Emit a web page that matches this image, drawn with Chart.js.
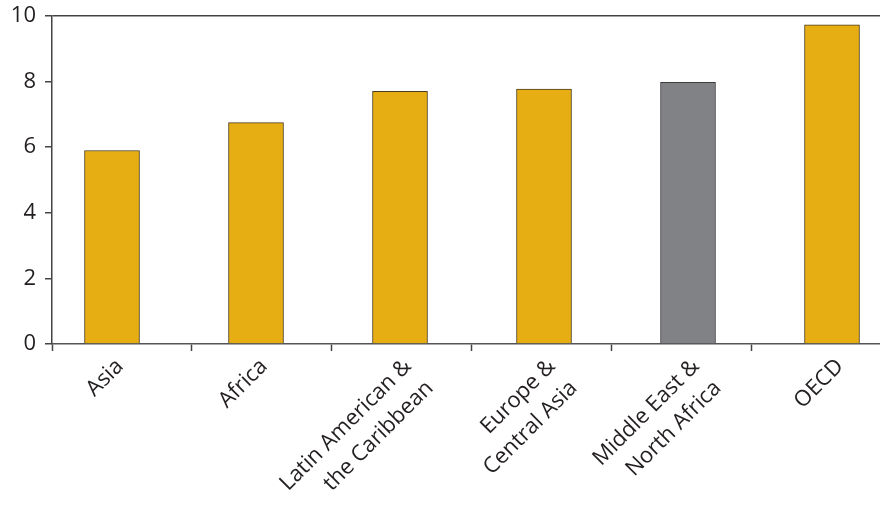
<!DOCTYPE html>
<html>
<head>
<meta charset="utf-8">
<script src="https://cdn.jsdelivr.net/npm/chart.js@4/dist/chart.umd.min.js"></script>
<style>
  html, body { margin: 0; padding: 0; background: #fff; overflow: hidden; }
</style>
</head>
<body>
<canvas id="c" width="880" height="506"></canvas>
<script>
const categories = [
  "Asia",
  "Africa",
  ["Latin American &", "the Caribbean"],
  ["Europe &", "Central Asia"],
  ["Middle East &", "North Africa"],
  "OECD"
];
const values = [5.9, 6.75, 7.7, 7.77, 7.98, 9.73];
const highlighted = [false, false, false, false, true, false];
const yTicks = [0, 2, 4, 6, 8, 10];

const gold = '#E6AE12', goldBorder = '#4a3c1c';
const grey = '#808285', greyBorder = '#3c3c3c';
const ink = '#231f20';
const font = "'Open Sans', 'Noto Sans', sans-serif";

// x axis geometry (in category units): bars one unit apart,
// the axis starts a little before the first bar, and the
// separator tick marks are spaced slightly tighter than the bars.
const xMin = -0.4167, xMax = 5.3333, sepStep = 0.9722;

new Chart(document.getElementById('c'), {
  type: 'bar',
  data: {
    datasets: [{
      data: values.map((v, i) => ({ x: i, y: v })),
      backgroundColor: highlighted.map(h => h ? grey : gold),
      borderColor: highlighted.map(h => h ? greyBorder : goldBorder),
      borderWidth: 1,
      barThickness: 55
    }]
  },
  options: {
    responsive: false,
    animation: false,
    layout: { padding: { top: 16, left: 0, right: 0, bottom: 0 } },
    plugins: { legend: { display: false }, tooltip: { enabled: false } },
    scales: {
      x: {
        type: 'linear',
        min: xMin, max: xMax,
        offset: false,
        afterBuildTicks: s => {
          const t = [];
          categories.forEach((c, i) => t.push({ value: i, label: c, cat: true }));
          for (let k = 0; xMin + k * sepStep <= xMax; k++) t.push({ value: xMin + k * sepStep, label: '' });
          t.sort((a, b) => a.value - b.value);
          s.ticks = t;
        },
        grid: {
          offset: false,
          drawOnChartArea: false,
          drawTicks: true,
          tickLength: 7,
          tickColor: c => (c.tick && c.tick.cat) ? 'transparent' : '#444',
          tickWidth: 1.5
        },
        border: { display: true, color: '#555', width: 1.5 },
        ticks: {
          color: ink,
          font: { family: font, size: 22, lineHeight: 1.4 },
          maxRotation: 45,
          minRotation: 45,
          padding: 1,
          labelOffset: 8,
          autoSkip: false,
          callback: function (v, i, ticks) { return ticks[i].label; }
        },
        afterFit: s => { s.height = 162; s.paddingLeft = 0; s.paddingRight = 0; }
      },
      y: {
        min: 0, max: 10,
        afterBuildTicks: s => { s.ticks = yTicks.map(v => ({ value: v })); },
        grid: {
          drawTicks: true,
          tickLength: 7,
          tickColor: '#444',
          tickWidth: 1.5,
          color: c => (c.tick && c.tick.value === 10) ? '#444' : 'transparent',
          lineWidth: 1.5
        },
        border: { display: true, color: '#444', width: 1.5 },
        ticks: {
          color: ink,
          font: { family: font, size: 22 },
          padding: 9
        },
        afterFit: s => { s.width = 52; s.paddingTop = 0; s.paddingBottom = 0; }
      }
    }
  }
});
</script>
</body>
</html>
